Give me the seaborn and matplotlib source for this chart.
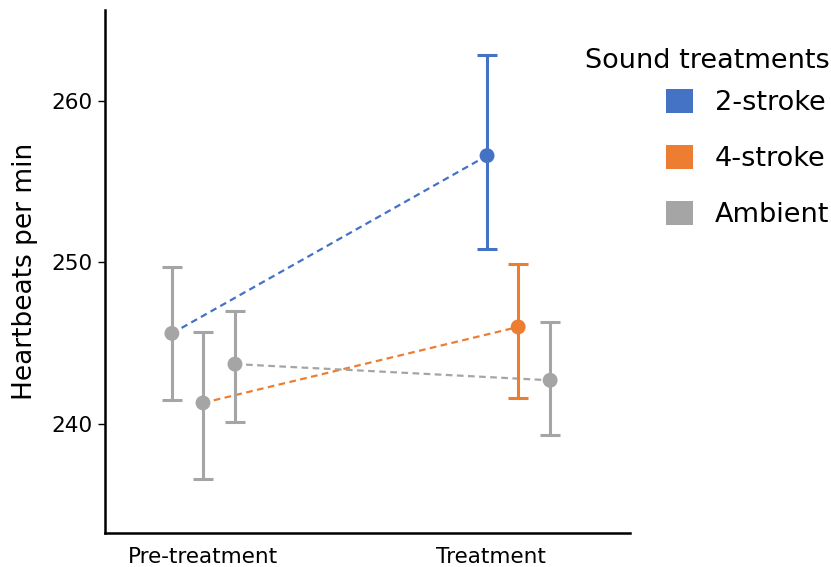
import matplotlib.pyplot as plt
import seaborn as sns
import pandas as pd
from matplotlib.patches import Patch

# data
phases = ['Pre-treatment', 'Treatment']
treatments = ['2-stroke', '4-stroke', 'Ambient']
pre_mean = [245.6, 241.3, 243.7]
pre_low = [241.5, 236.6, 240.1]
pre_high = [249.7, 245.7, 247.0]
treat_mean = [256.6, 246.0, 242.7]
treat_low = [250.8, 241.6, 239.3]
treat_high = [262.8, 249.9, 246.3]

colors = {'2-stroke': '#4472C4', '4-stroke': '#ED7D31', 'Ambient': '#A5A5A5'}
grey = '#A5A5A5'

# dodge offsets per treatment and a small shift of the treatment group
dodge = [-0.108, 0.0, 0.111]
group_shift = [0.0, 0.094]

rows = []
for p, (means, lows, highs) in enumerate([(pre_mean, pre_low, pre_high),
                                          (treat_mean, treat_low, treat_high)]):
    for i, t in enumerate(treatments):
        rows.append({'phase': phases[p], 'treatment': t,
                     'x': p + group_shift[p] + dodge[i],
                     'mean': means[i], 'low': lows[i], 'high': highs[i],
                     'color': grey if p == 0 else colors[t]})
df = pd.DataFrame(rows)

sns.set_style("ticks")
plt.rcParams['font.family'] = ['DejaVu Sans']
plt.rcParams['text.color'] = 'black'
plt.rcParams['axes.labelcolor'] = 'black'
plt.rcParams['xtick.color'] = 'black'
plt.rcParams['ytick.color'] = 'black'

fig = plt.figure(figsize=(8.31, 5.67), dpi=100)
ax = fig.add_axes([0.1264, 0.06, 0.632, 0.922])

# dashed connecting lines
sns.lineplot(data=df, x='x', y='mean', hue='treatment', palette=colors,
             ax=ax, legend=False, linewidth=1.6, dashes=False, zorder=1)
for line in ax.get_lines():
    line.set_linestyle((0, (3, 2)))

# error bars
for _, r in df.iterrows():
    ax.errorbar(r['x'], r['mean'],
                yerr=[[r['mean'] - r['low']], [r['high'] - r['mean']]],
                fmt='none', ecolor=r['color'], elinewidth=2.2,
                capsize=7.5, capthick=2.2, zorder=2)

# points
sns.scatterplot(data=df, x='x', y='mean', hue='color', palette={c: c for c in df['color'].unique()},
                s=115, edgecolor='none', legend=False, ax=ax, zorder=3)

ax.set_xlim(-0.34, 1.483)
ax.set_ylim(233.25, 265.6)
ax.set_yticks([240, 250, 260])
ax.set_xticks([0, 1])
ax.set_xticklabels(phases)
ax.tick_params(axis='y', labelsize=15.5, length=5, width=1, pad=4)
ax.tick_params(axis='x', labelsize=15.5, length=0, pad=10)
ax.set_xlabel('')
ax.set_ylabel('Heartbeats per min', fontsize=19, labelpad=10)

sns.despine(ax=ax)
for s in ['left', 'bottom']:
    ax.spines[s].set_linewidth(1.8)
    ax.spines[s].set_color('black')

handles = [Patch(facecolor=colors[t], edgecolor='none', label=t) for t in treatments]
leg = fig.legend(handles=handles, title='Sound treatments', loc='upper right',
                 bbox_to_anchor=(0.998, 0.916), frameon=False, fontsize=19.5,
                 title_fontsize=19.5, handlelength=1.0, handleheight=1.0,
                 labelspacing=1.05, handletextpad=0.8, borderpad=0, borderaxespad=0)
leg._legend_box.align = 'right'
leg._legend_box.sep = 11

fig.savefig('out.png', dpi=100)
